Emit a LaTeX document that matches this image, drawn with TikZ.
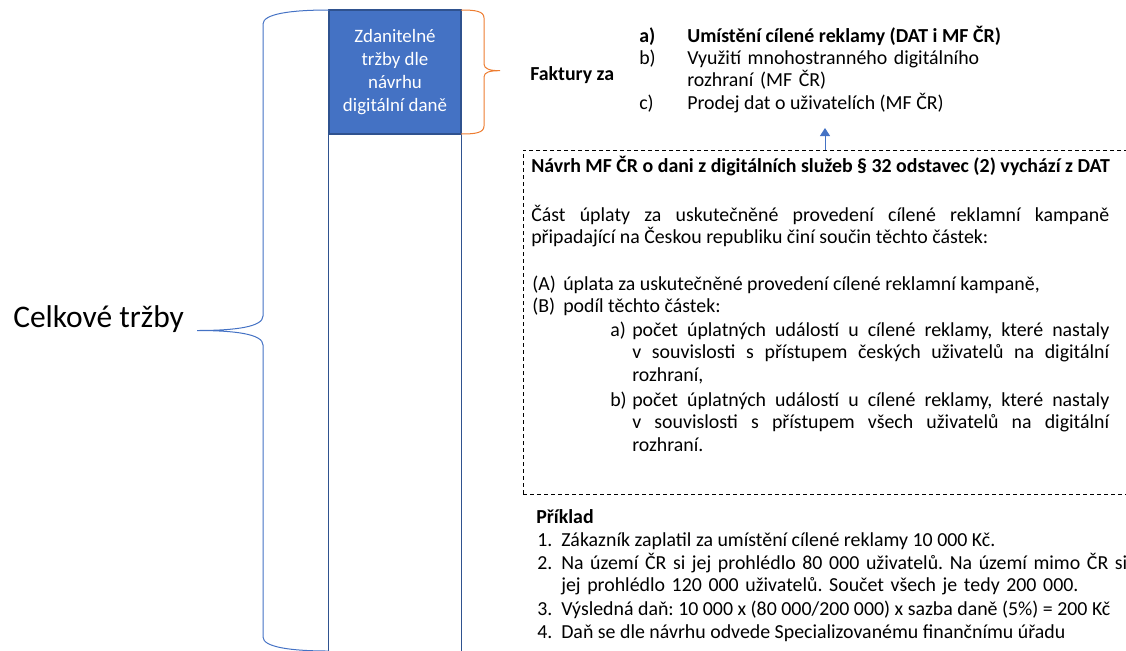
\documentclass[tikz,border=0pt]{standalone}
\usepackage{fontspec}
\setmainfont{Carlito}
\usetikzlibrary{arrows.meta, positioning}
\definecolor{boxblue}{HTML}{4472C4}
\definecolor{darkblue}{HTML}{2F528F}
\definecolor{brorange}{HTML}{ED7D31}
\frenchspacing

\begin{document}
\begin{tikzpicture}[x=0.75pt, y=-0.75pt,
    txt/.style={inner sep=0, anchor=base west, font=\fontsize{14.9}{16.9}\selectfont},
    btxt/.style={txt, font=\fontsize{14.9}{16.9}\selectfont\bfseries},
    colline/.style={darkblue, line width=1pt}]
\useasboundingbox (0,0) rectangle (1126,650);
\clip (0,0) rectangle (1126,650);

% column with the taxable part on top
\node[fill=boxblue, draw=darkblue, line width=1pt, minimum width=99pt, minimum height=93pt,
      text=white, align=center, font=\fontsize{14.2}{17.25}\selectfont] (zbox) at (395,72)
      {Zdanitelné\\tržby dle\\návrhu\\digitální daně};
\draw[colline] (zbox.south west) -- ++(0,530);
\draw[colline] (zbox.south east) -- ++(0,530);

% braces
\node[inner sep=0, anchor=base west, font=\fontsize{23.6}{28}\selectfont] (total) at (13,327) {Celkové tržby};
\draw[boxblue, line width=0.75pt] (329,10) .. controls (290,10) and (263,14) .. (263,24) -- (263,316)
    .. controls (263,327) and (235,330.5) .. (197,330.5) .. controls (235,330.5) and (263,334) .. (263,345)
    -- (263,637) .. controls (263,647) and (290,651) .. (329,651);
\draw[brorange, line width=0.75pt] (461,10) .. controls (475,10) and (484,11) .. (484,18) -- (484,64)
    .. controls (484,69) and (490,70.7) .. (500,70.7) .. controls (490,70.7) and (484,72) .. (484,77)
    -- (484,126) .. controls (484,133) and (475,134) .. (461,134);

% invoices
\node[btxt] (fakt) at (530,80) {Faktury za};
\node[btxt] (la) at (639,42) {a)};
\node[btxt] (ta) at (687,42) {Umístění cílené reklamy (DAT i MF ČR)};
\node[txt] (lb) at (639,64) {b)};
\node[txt, text width=320pt, align=left] (tb) at (687,64) {Využití mnohostranného digitálního\\rozhraní (MF ČR)};
\node[txt] (lc) at (639,109) {c)};
\node[txt] (tc) at (687,109) {Prodej dat o uživatelích (MF ČR)};

% proposal of the ministry
\node[draw, dashed, dash pattern=on 3pt off 2.25pt, line width=0.75pt, inner sep=0,
      minimum width=462.75pt, minimum height=258pt] (dbox) at (831.5,322) {};
\coordinate (arr) at (825,128);
\draw[-{Triangle[length=6pt,width=7.5pt]}, boxblue, line width=0.75pt] (arr |- dbox.north) -- (arr);

\node[btxt] (head) at (531,172) {Návrh MF ČR o dani z digitálních služeb § 32 odstavec (2) vychází z DAT};
\node[txt, text width=433.5pt, align=justify] (para) at (531,221)
    {Část úplaty za uskutečněné provedení cílené reklamní kampaně\linebreak připadající na Českou republiku činí součin těchto částek:};
\node[txt] (lA) at (532,290) {(A)};
\node[txt] (tA) at (563,290) {úplata za uskutečněné provedení cílené reklamní kampaně,};
\node[txt] (lB) at (532,312) {(B)};
\node[txt] (tB) at (563,312) {podíl těchto částek:};
\node[txt] (lBa) at (610,336) {a)};
\node[txt, text width=357.75pt, align=justify] (tBa) at (632,336)
    {počet úplatných událostí u cílené reklamy, které nastaly\linebreak v souvislosti s přístupem českých uživatelů na digitální\linebreak rozhraní,};
\node[txt] (lBb) at (610,406) {b)};
\node[txt, text width=357.75pt, align=justify] (tBb) at (632,406)
    {počet úplatných událostí u cílené reklamy, které nastaly\linebreak v souvislosti s přístupem všech uživatelů na digitální\linebreak rozhraní.};

% example
\node[btxt] (pr) at (536,523) {Příklad};
\node[txt] (n1) at (537,546) {1.};
\node[txt] (e1) at (561,546) {Zákazník zaplatil za umístění cílené reklamy 10~000 Kč.};
\node[txt] (n2) at (537,569) {2.};
\node[txt, text width=470pt, align=left] (e2) at (561,569)
    {Na území ČR si jej prohlédlo 80~000 uživatelů. Na území mimo ČR si\\jej prohlédlo 120~000 uživatelů. Součet všech je tedy 200~000.};
\node[txt] (n3) at (537,615) {3.};
\node[txt] (e3) at (561,615) {Výsledná daň: 10~000 x (80~000/200~000) x sazba daně (5\%) = 200 Kč};
\node[txt] (n4) at (537,638) {4.};
\node[txt] (e4) at (561,638) {Daň se dle návrhu odvede Specializovanému finančnímu úřadu};
\end{tikzpicture}
\end{document}
